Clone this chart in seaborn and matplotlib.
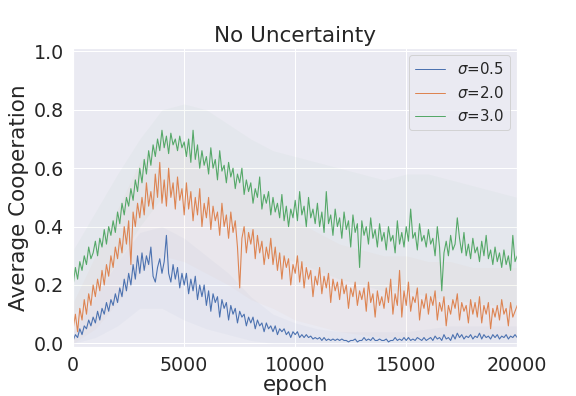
import numpy as np
import pandas as pd
import matplotlib
matplotlib.use("Agg")
import matplotlib.pyplot as plt
from matplotlib.lines import Line2D
import seaborn as sns

# epochs step 100
epochs = list(range(0, 20001, 100))

green = [
    0.20, 0.26, 0.22, 0.28, 0.25, 0.30, 0.27, 0.33, 0.29, 0.31,
    0.35, 0.30, 0.36, 0.33, 0.39, 0.34, 0.40, 0.37, 0.42, 0.38,
    0.45, 0.41, 0.48, 0.44, 0.50, 0.47, 0.53, 0.49, 0.56, 0.52,
    0.60, 0.55, 0.63, 0.58, 0.66, 0.61, 0.68, 0.64, 0.70, 0.66,
    0.73, 0.67, 0.71, 0.65, 0.72, 0.68, 0.70, 0.66, 0.71, 0.67,
    0.69, 0.64, 0.70, 0.62, 0.73, 0.63, 0.68, 0.60, 0.66, 0.61,
    0.64, 0.58, 0.67, 0.60, 0.63, 0.56, 0.66, 0.59, 0.61, 0.55,
    0.62, 0.57, 0.60, 0.53, 0.58, 0.55, 0.60, 0.51, 0.56, 0.52,
    0.55, 0.48, 0.53, 0.50, 0.57, 0.46, 0.51, 0.48, 0.52, 0.44,
    0.50, 0.45, 0.48, 0.43, 0.51, 0.42, 0.47, 0.40, 0.46, 0.43,
    0.49, 0.42, 0.52, 0.44, 0.47, 0.40, 0.50, 0.43, 0.46, 0.41,
    0.48, 0.40, 0.45, 0.38, 0.52, 0.41, 0.44, 0.37, 0.46, 0.40,
    0.43, 0.36, 0.45, 0.39, 0.42, 0.33, 0.44, 0.38, 0.41, 0.26,
    0.42, 0.37, 0.40, 0.34, 0.43, 0.36, 0.39, 0.33, 0.41, 0.35,
    0.38, 0.32, 0.40, 0.35, 0.37, 0.31, 0.42, 0.34, 0.38, 0.33,
    0.40, 0.35, 0.46, 0.36, 0.38, 0.32, 0.41, 0.35, 0.37, 0.33,
    0.39, 0.34, 0.36, 0.30, 0.40, 0.33, 0.18, 0.31, 0.35, 0.30,
    0.37, 0.32, 0.34, 0.43, 0.36, 0.31, 0.38, 0.30, 0.34, 0.29,
    0.36, 0.31, 0.33, 0.28, 0.35, 0.30, 0.37, 0.29, 0.32, 0.27,
    0.33, 0.28, 0.31, 0.26, 0.32, 0.27, 0.30, 0.25, 0.37, 0.28,
    0.30,
]

orange = [
    0.05, 0.10, 0.04, 0.12, 0.08, 0.15, 0.10, 0.17, 0.13, 0.20,
    0.16, 0.22, 0.18, 0.25, 0.20, 0.27, 0.23, 0.30, 0.26, 0.33,
    0.29, 0.36, 0.31, 0.40, 0.34, 0.42, 0.27, 0.45, 0.40, 0.48,
    0.43, 0.50, 0.44, 0.55, 0.47, 0.52, 0.46, 0.58, 0.50, 0.62,
    0.48, 0.56, 0.47, 0.60, 0.50, 0.55, 0.46, 0.57, 0.49, 0.53,
    0.44, 0.55, 0.46, 0.52, 0.42, 0.50, 0.44, 0.53, 0.40, 0.48,
    0.43, 0.50, 0.39, 0.47, 0.42, 0.45, 0.37, 0.48, 0.40, 0.44,
    0.36, 0.45, 0.38, 0.42, 0.33, 0.19, 0.36, 0.40, 0.31, 0.38,
    0.34, 0.39, 0.29, 0.37, 0.31, 0.35, 0.27, 0.33, 0.29, 0.36,
    0.27, 0.33, 0.25, 0.31, 0.22, 0.30, 0.26, 0.29, 0.20, 0.27,
    0.24, 0.30, 0.21, 0.28, 0.19, 0.26, 0.22, 0.25, 0.16, 0.23,
    0.20, 0.26, 0.17, 0.23, 0.19, 0.24, 0.14, 0.22, 0.18, 0.21,
    0.15, 0.22, 0.17, 0.20, 0.12, 0.19, 0.16, 0.21, 0.13, 0.18,
    0.15, 0.19, 0.11, 0.21, 0.14, 0.17, 0.09, 0.18, 0.13, 0.16,
    0.12, 0.19, 0.14, 0.22, 0.10, 0.17, 0.13, 0.25, 0.09, 0.18,
    0.13, 0.21, 0.11, 0.16, 0.14, 0.19, 0.08, 0.15, 0.12, 0.17,
    0.10, 0.16, 0.13, 0.18, 0.08, 0.14, 0.11, 0.16, 0.06, 0.13,
    0.10, 0.15, 0.12, 0.17, 0.08, 0.14, 0.11, 0.13, 0.07, 0.15,
    0.10, 0.14, 0.09, 0.16, 0.07, 0.13, 0.10, 0.14, 0.05, 0.12,
    0.09, 0.13, 0.08, 0.15, 0.10, 0.12, 0.06, 0.14, 0.09, 0.11,
    0.13,
]

blue = [
    0.01, 0.03, 0.02, 0.05, 0.03, 0.06, 0.05, 0.08, 0.06, 0.09,
    0.07, 0.11, 0.08, 0.12, 0.10, 0.14, 0.11, 0.15, 0.13, 0.17,
    0.14, 0.19, 0.16, 0.22, 0.18, 0.24, 0.20, 0.27, 0.22, 0.30,
    0.24, 0.31, 0.25, 0.30, 0.27, 0.33, 0.23, 0.21, 0.26, 0.29,
    0.24, 0.28, 0.37, 0.24, 0.21, 0.27, 0.22, 0.26, 0.19, 0.24,
    0.20, 0.24, 0.17, 0.22, 0.18, 0.23, 0.15, 0.20, 0.16, 0.20,
    0.13, 0.18, 0.11, 0.17, 0.14, 0.16, 0.09, 0.15, 0.12, 0.14,
    0.08, 0.13, 0.10, 0.12, 0.07, 0.11, 0.09, 0.10, 0.06, 0.09,
    0.07, 0.09, 0.05, 0.08, 0.06, 0.07, 0.04, 0.07, 0.05, 0.06,
    0.04, 0.06, 0.03, 0.05, 0.04, 0.05, 0.03, 0.04, 0.02, 0.04,
    0.03, 0.04, 0.02, 0.03, 0.02, 0.03, 0.02, 0.025, 0.015, 0.02,
    0.015, 0.02, 0.01, 0.02, 0.01, 0.015, 0.01, 0.015, 0.01, 0.015,
    0.01, 0.015, 0.01, 0.01, 0.005, 0.01, 0.01, 0.015, 0.005, 0.01,
    0.01, 0.02, 0.01, 0.015, 0.01, 0.02, 0.01, 0.01, 0.015, 0.01,
    0.01, 0.015, 0.005, 0.01, 0.01, 0.02, 0.01, 0.015, 0.01, 0.02,
    0.01, 0.02, 0.01, 0.015, 0.01, 0.02, 0.015, 0.01, 0.02, 0.01,
    0.015, 0.02, 0.01, 0.025, 0.015, 0.02, 0.01, 0.03, 0.015, 0.02,
    0.01, 0.03, 0.015, 0.035, 0.02, 0.03, 0.015, 0.025, 0.02, 0.03,
    0.015, 0.025, 0.02, 0.035, 0.015, 0.03, 0.02, 0.025, 0.015, 0.03,
    0.02, 0.03, 0.015, 0.025, 0.02, 0.03, 0.015, 0.025, 0.02, 0.03,
    0.02,
]

# faint uncertainty bands (coarse, every 1000 epochs)
band_epochs = list(range(0, 20001, 1000))
green_lo = [0.10, 0.18, 0.28, 0.40, 0.50, 0.52, 0.48, 0.42, 0.36, 0.30, 0.28, 0.25, 0.22, 0.20, 0.18, 0.18, 0.16, 0.15, 0.14, 0.13, 0.12]
green_hi = [0.32, 0.45, 0.58, 0.70, 0.80, 0.82, 0.80, 0.75, 0.70, 0.66, 0.64, 0.62, 0.60, 0.58, 0.56, 0.58, 0.58, 0.56, 0.54, 0.52, 0.50]
orange_lo = [0.00, 0.05, 0.14, 0.24, 0.30, 0.28, 0.24, 0.20, 0.15, 0.12, 0.08, 0.06, 0.04, 0.03, 0.02, 0.02, 0.02, 0.02, 0.02, 0.02, 0.02]
orange_hi = [0.14, 0.30, 0.46, 0.62, 0.70, 0.68, 0.62, 0.58, 0.52, 0.46, 0.42, 0.38, 0.34, 0.32, 0.30, 0.30, 0.28, 0.28, 0.26, 0.26, 0.26]
blue_lo = [0.00, 0.02, 0.06, 0.12, 0.12, 0.08, 0.05, 0.03, 0.01, 0.00, 0.00, 0.00, 0.00, 0.00, 0.00, 0.00, 0.00, 0.00, 0.00, 0.00, 0.00]
blue_hi = [0.04, 0.16, 0.28, 0.38, 0.40, 0.36, 0.30, 0.24, 0.16, 0.10, 0.07, 0.05, 0.04, 0.04, 0.04, 0.04, 0.05, 0.06, 0.06, 0.06, 0.06]

labels = [r"$\sigma$=0.5", r"$\sigma$=2.0", r"$\sigma$=3.0"]

sns.set_theme(style="darkgrid")
pal = sns.color_palette("deep")

df = pd.concat([
    pd.DataFrame({"epoch": epochs, "value": blue, "series": labels[0]}),
    pd.DataFrame({"epoch": epochs, "value": orange, "series": labels[1]}),
    pd.DataFrame({"epoch": epochs, "value": green, "series": labels[2]}),
])

fig = plt.figure(figsize=(8, 5.5), dpi=72)
ax = fig.add_axes([0.127, 0.124, 0.771, 0.755])

bands = [(blue_lo, blue_hi), (orange_lo, orange_hi), (green_lo, green_hi)]
for (lo, hi), c in zip(bands, pal[:3]):
    ax.fill_between(band_epochs, lo, hi, color=c, alpha=0.035, linewidth=0)

sns.lineplot(data=df, x="epoch", y="value", hue="series",
             palette=pal[:3], linewidth=1.1, ax=ax, errorbar=None, legend=False)

ax.set_xlim(0, 20000)
ax.set_ylim(-0.012, 1.012)
ax.set_xticks([0, 5000, 10000, 15000, 20000])
ax.set_yticks([0.0, 0.2, 0.4, 0.6, 0.8, 1.0])
ax.tick_params(labelsize=19)
ax.set_xlabel("epoch", fontsize=21.5, labelpad=0)
ax.set_ylabel("Average Cooperation", fontsize=21.5)
ax.set_title("No Uncertainty", fontsize=21.5)
handles = [Line2D([0], [0], color=c, lw=1.0) for c in pal[:3]]
leg = ax.legend(handles, labels, loc="upper right", fontsize=15, handlelength=2.0)

fig.savefig("out.png", dpi=72)
